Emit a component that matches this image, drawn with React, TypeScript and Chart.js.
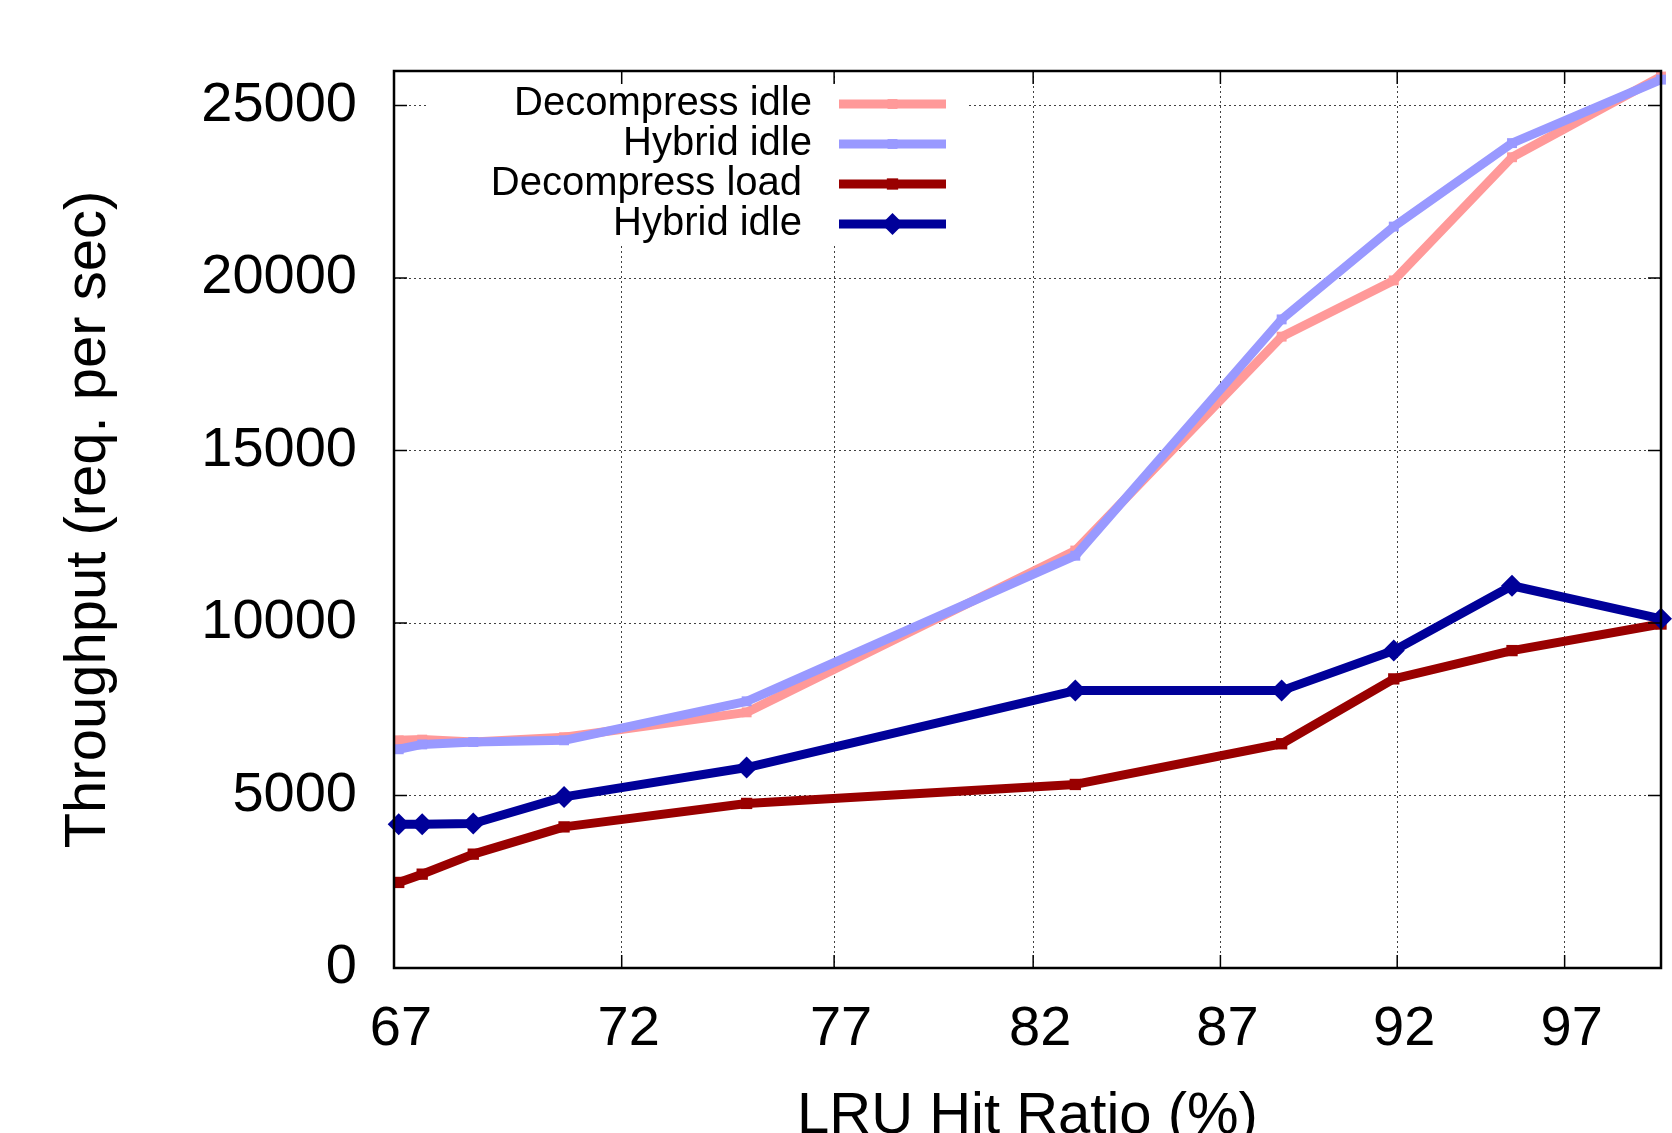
import React, { useEffect, useRef } from "react";
import { Chart, registerables } from "chart.js";

Chart.register(...registerables);

// ---- data ----
const hitRatio = [67.1, 67.6, 68.7, 70.7, 74.9, 83.1, 88.7, 91.9, 95.4, 100];
const decompressIdle = [6600, 6620, 6550, 6690, 7410, 12100, 18300, 19930, 23500, 25840];
const hybridIdle = [6340, 6480, 6550, 6600, 7730, 11950, 18800, 21490, 23910, 25750];
const decompressLoad = [2480, 2720, 3300, 4090, 4770, 5320, 6500, 8380, 9200, 9970];
const hybridLoad = [4170, 4170, 4190, 4960, 5810, 8040, 8040, 9200, 11080, 10120];
const seriesLabels = ["Decompress idle", "Hybrid idle", "Decompress load", "Hybrid idle"];
const xTicks = [67, 72, 77, 82, 87, 92, 97];
const yTicks = [0, 5000, 10000, 15000, 20000, 25000];

const FONT = '"Liberation Sans", Arial, Helvetica, sans-serif';
const colors = ["#ff9999", "#9999ff", "#990000", "#000099"];
const pointStyles = ["rect", "rect", "rect", "rectRot"];
const pointRadii = [7, 7, 8, 11];

function drawMarker(ctx: CanvasRenderingContext2D, style: string, r: number, x: number, y: number, color: string) {
  ctx.save();
  ctx.fillStyle = color;
  ctx.beginPath();
  if (style === "rectRot") {
    ctx.moveTo(x, y - r);
    ctx.lineTo(x + r, y);
    ctx.lineTo(x, y + r);
    ctx.lineTo(x - r, y);
    ctx.closePath();
  } else {
    const s = r * Math.SQRT1_2;
    ctx.rect(x - s, y - s, 2 * s, 2 * s);
  }
  ctx.fill();
  ctx.restore();
}

const keyPlugin = {
  id: "gnuKey",
  beforeDatasetsDraw(chart: any) {
    const ctx = chart.ctx as CanvasRenderingContext2D;
    const a = chart.chartArea;
    ctx.save();
    ctx.fillStyle = "#ffffff";
    ctx.fillRect(a.left + 32, a.top + 13, 540, 162);
    const rowsY = [104, 144, 184, 224];
    const textRight = [812, 812, 802, 802];
    ctx.font = `40px ${FONT}`;
    ctx.textAlign = "right";
    ctx.textBaseline = "middle";
    chart.data.datasets.forEach((ds: any, i: number) => {
      ctx.fillStyle = "#000";
      ctx.fillText(ds.label, textRight[i], rowsY[i]);
      ctx.strokeStyle = ds.borderColor;
      ctx.lineWidth = 9;
      ctx.lineCap = "butt";
      ctx.beginPath();
      ctx.moveTo(839, rowsY[i]);
      ctx.lineTo(946, rowsY[i]);
      ctx.stroke();
      drawMarker(ctx, pointStyles[i], pointRadii[i], 892.5, rowsY[i], ds.borderColor);
    });
    ctx.restore();
  },
};

const framePlugin = {
  id: "gnuFrame",
  afterDraw(chart: any) {
    const ctx = chart.ctx as CanvasRenderingContext2D;
    const a = chart.chartArea;
    const xs = chart.scales.x;
    const ys = chart.scales.y;
    const tl = 13;
    ctx.save();
    ctx.strokeStyle = "#000";
    ctx.lineWidth = 1.5;
    ctx.beginPath();
    xTicks.forEach((v) => {
      const px = xs.getPixelForValue(v);
      ctx.moveTo(px, a.bottom);
      ctx.lineTo(px, a.bottom - tl);
      ctx.moveTo(px, a.top);
      ctx.lineTo(px, a.top + tl);
    });
    yTicks.forEach((v) => {
      const py = ys.getPixelForValue(v);
      ctx.moveTo(a.left, py);
      ctx.lineTo(a.left + tl, py);
      ctx.moveTo(a.right, py);
      ctx.lineTo(a.right - tl, py);
    });
    ctx.stroke();
    ctx.lineWidth = 2.5;
    ctx.strokeRect(a.left, a.top, a.right - a.left, a.bottom - a.top);
    ctx.restore();
  },
};

export default function App() {
  const ref = useRef<HTMLCanvasElement>(null);

  useEffect(() => {
    if (!ref.current) return;
    const series = [decompressIdle, hybridIdle, decompressLoad, hybridLoad];
    const datasets = series.map((vals, i) => ({
      label: seriesLabels[i],
      data: vals.map((y, k) => ({ x: hitRatio[k], y })),
      borderColor: colors[i],
      backgroundColor: colors[i],
      pointBackgroundColor: colors[i],
      pointBorderColor: colors[i],
      pointBorderWidth: 0,
      pointStyle: pointStyles[i],
      pointRadius: pointRadii[i],
      borderWidth: 9,
      borderJoinStyle: "round" as const,
      tension: 0,
      clip: false as any,
      order: 3 - i,
    }));

    const chart = new Chart(ref.current, {
      type: "line",
      data: { datasets },
      plugins: [keyPlugin, framePlugin],
      options: {
        responsive: false,
        animation: false,
        layout: { padding: { top: 71, right: 10, bottom: 0, left: 0 } },
        plugins: { legend: { display: false }, tooltip: { enabled: false } },
        scales: {
          x: {
            type: "logarithmic",
            min: 67,
            max: 100,
            afterBuildTicks: (scale: any) => {
              scale.ticks = xTicks.map((v) => ({ value: v }));
            },
            afterFit: (scale: any) => {
              scale.height = 165;
            },
            ticks: {
              autoSkip: false,
              maxRotation: 0,
              minRotation: 0,
              padding: 28,
              labelOffset: 7,
              color: "#000",
              font: { family: FONT, size: 56 },
              callback: (v: any) => String(v),
            },
            grid: {
              color: "rgba(0,0,0,0.75)",
              lineWidth: 1,
              drawTicks: false,
            },
            border: { display: false, dash: [2, 3] },
            title: {
              display: true,
              text: "LRU Hit Ratio (%)",
              color: "#000",
              font: { family: FONT, size: 58 },
              padding: { top: 0, bottom: -19 },
            },
          },
          y: {
            type: "linear",
            min: 0,
            max: 26000,
            afterBuildTicks: (scale: any) => {
              scale.ticks = yTicks.map((v) => ({ value: v }));
            },
            afterFit: (scale: any) => {
              scale.width = 394;
            },
            ticks: {
              padding: 37,
              color: "#000",
              font: { family: FONT, size: 56 },
              callback: (v: any) => String(v),
            },
            grid: {
              color: "rgba(0,0,0,0.75)",
              lineWidth: 1,
              drawTicks: false,
            },
            border: { display: false, dash: [2, 3] },
            title: {
              display: true,
              text: "Throughput (req. per sec)",
              color: "#000",
              font: { family: FONT, size: 58 },
              padding: { top: 54, bottom: 0 },
            },
          },
        },
      },
    });
    return () => chart.destroy();
  }, []);

  return (
    <div style={{ position: "absolute", left: 0, top: 0, width: 1672, height: 1133, background: "#fff" }}>
      <canvas ref={ref} width={1672} height={1133} style={{ display: "block", width: 1672, height: 1133 }} />
    </div>
  );
}
